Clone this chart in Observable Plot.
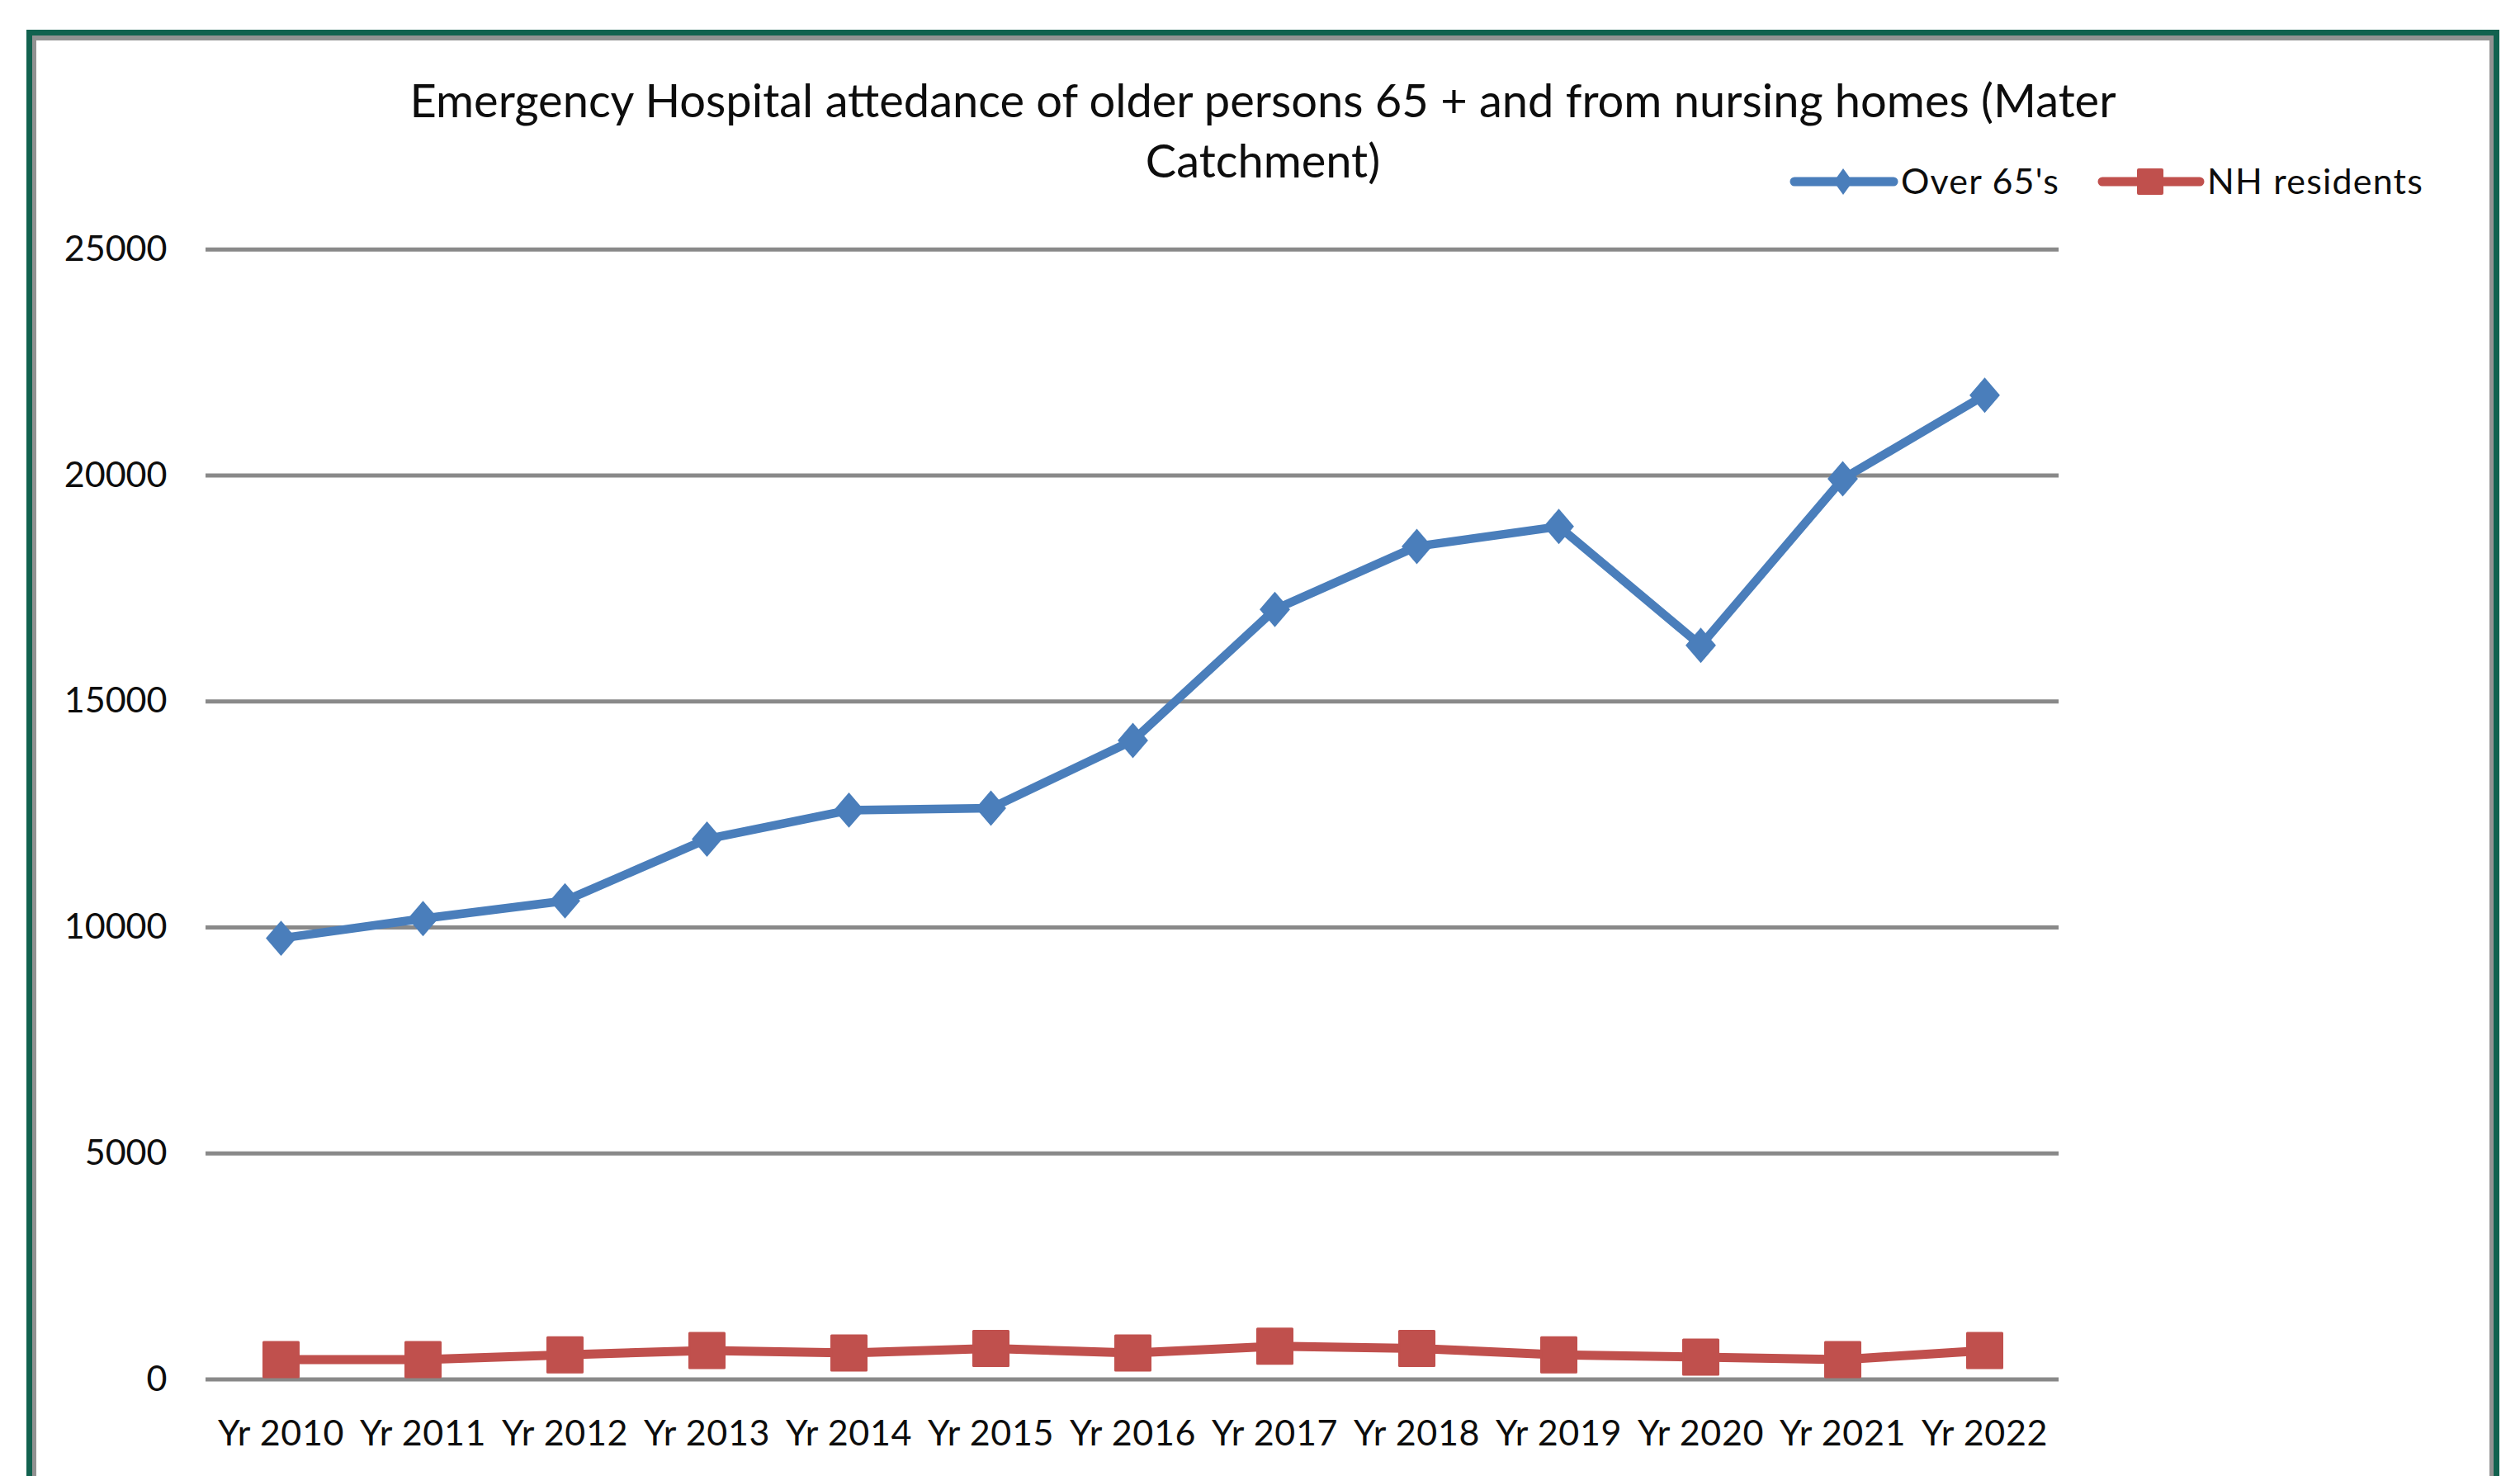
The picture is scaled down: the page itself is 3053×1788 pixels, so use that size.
<!DOCTYPE html>
<html>
<head>
<meta charset="utf-8">
<script src="https://cdn.jsdelivr.net/npm/d3@7"></script>
<script src="https://cdn.jsdelivr.net/npm/@observablehq/plot@0.6"></script>
<style>
  html, body { margin: 0; padding: 0; background: #fff; width: 3053px; height: 1788px; overflow: hidden; }
  #frame { position: absolute; left: 32px; top: 36px; width: 2996px; height: 1800px; box-sizing: border-box;
           border: 7px solid #12624f; z-index: 3; pointer-events: none; }
  #frame .inner { position: absolute; left: 0; top: 0; right: 0; bottom: 0; border: 5px solid #929292; border-top-width: 6px; }
  #title { position: absolute; left: 0; width: 3060px; top: 83.5px; text-align: center; font-family: Lato, sans-serif;
           font-size: 56px; line-height: 73px; color: #0d0d0d; white-space: nowrap; z-index: 2; }
  #legend { position: absolute; left: 2150px; top: 180px; z-index: 2; }
  #chart { position: absolute; left: 0; top: 260px; z-index: 1; }
  #chart svg { max-width: none; }
  #chart svg g[aria-label="x-axis tick label"] text { letter-spacing: 0.6px; }
</style>
</head>
<body>
<div id="frame"><div class="inner"></div></div>
<div id="title">Emergency Hospital attedance of older persons 65 + and from nursing homes (Mater<br>Catchment)</div>
<svg id="legend" width="850" height="90" font-family="Lato, sans-serif" font-size="43" fill="#0d0d0d" letter-spacing="1.2">
  <line x1="24" y1="40" x2="144" y2="40" stroke="#4a7ebb" stroke-width="11" stroke-linecap="round"></line>
  <polygon points="83,24 94.5,40 83,56 71.5,40" fill="#4a7ebb"></polygon>
  <text x="153" y="55">Over 65's</text>
  <line x1="397" y1="40" x2="515" y2="40" stroke="#c0504d" stroke-width="11" stroke-linecap="round"></line>
  <rect x="439" y="24" width="32" height="32" rx="2" fill="#c0504d"></rect>
  <text x="524" y="55">NH residents</text>
</svg>
<div id="chart"></div>
<script>
const years = ["Yr 2010", "Yr 2011", "Yr 2012", "Yr 2013", "Yr 2014", "Yr 2015", "Yr 2016",
               "Yr 2017", "Yr 2018", "Yr 2019", "Yr 2020", "Yr 2021", "Yr 2022"];
const over65 = [9760, 10195, 10590, 11955, 12595, 12640, 14135, 17035, 18430, 18870, 16240, 19925, 21775];
const nhResidents = [440, 440, 545, 640, 585, 685, 585, 735, 685, 545, 495, 440, 640];
const yTicks = [0, 5000, 10000, 15000, 20000, 25000];

const blue = years.map((year, i) => ({year, value: over65[i]}));
const red = years.map((year, i) => ({year, value: nhResidents[i]}));

// Excel-style diamond: slightly taller than wide
const excelDiamond = {
  draw(context, size) {
    const r = Math.sqrt(size / Math.PI);
    const hw = r * 0.97, hh = r * 1.13;
    context.moveTo(0, -hh);
    context.lineTo(hw, 0);
    context.lineTo(0, hh);
    context.lineTo(-hw, 0);
    context.closePath();
  }
};

const chart = Plot.plot({
  width: 3053,
  height: 1528,
  marginLeft: 249,
  marginRight: 559,
  marginTop: 41.7,
  marginBottom: 117.5,
  style: {background: "transparent", fontFamily: "Lato, sans-serif", color: "#0d0d0d", overflow: "visible"},
  x: {type: "point", domain: years, padding: 0.5, label: null},
  y: {domain: [0, 25000], label: null},
  marks: [
    Plot.gridY(yTicks, {stroke: "#898989", strokeOpacity: 1, strokeWidth: 5}),
    Plot.axisY(yTicks, {tickSize: 0, tickPadding: 47, fontSize: 43, label: null, tickFormat: d3.format("d")}),
    Plot.axisX({tickSize: 0, tickPadding: 49.5, fontSize: 43, label: null}),
    Plot.line(blue, {x: "year", y: "value", stroke: "#4a7ebb", strokeWidth: 10.5, strokeLinejoin: "round", strokeLinecap: "round"}),
    Plot.dot(blue, {x: "year", y: "value", symbol: excelDiamond, r: 19, fill: "#4a7ebb"}),
    Plot.line(red, {x: "year", y: "value", stroke: "#c0504d", strokeWidth: 11, strokeLinejoin: "round", strokeLinecap: "round"}),
    Plot.dot(red, {x: "year", y: "value", symbol: "square", r: 23.7, fill: "#c0504d", stroke: "#c0504d", strokeWidth: 3, strokeLinejoin: "round"})
  ]
});
document.getElementById("chart").appendChild(chart);
</script>
</body>
</html>
